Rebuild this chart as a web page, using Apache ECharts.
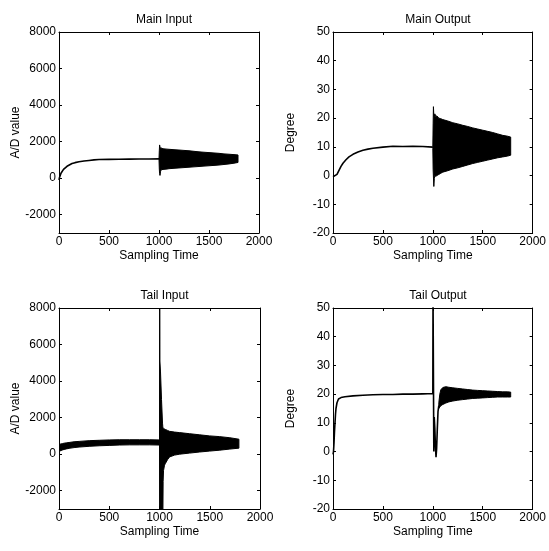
<!DOCTYPE html>
<html>
<head>
<meta charset="utf-8">
<script src="https://cdn.jsdelivr.net/npm/echarts@6/dist/echarts.min.js"></script>
<style>
html,body{margin:0;padding:0;background:#fff;}
#c{width:549px;height:551px;}
</style>
</head>
<body>
<div id="c"></div>
<script>
// ---------- tick labels ----------
const xTicks = [0, 500, 1000, 1500, 2000];
const adTicks = [-2000, 0, 2000, 4000, 6000, 8000];
const degTicks = [-20, -10, 0, 10, 20, 30, 40, 50];
const titles = ['Main Input', 'Main Output', 'Tail Input', 'Tail Output'];

// ---------- Main Input ----------
const miX = [0, 5, 10, 20, 30, 45, 60, 80, 100, 130, 160, 200, 250, 300, 350, 400, 500, 600, 700, 800, 900, 1000];
const miY = [-100, 40, 130, 270, 370, 480, 560, 650, 730, 800, 850, 900, 940, 970, 1000, 1020, 1030, 1040, 1045, 1050, 1050, 1055];
const miBandX = [1000, 1003, 1006, 1010, 1015, 1020, 1030, 1040, 1060, 1080, 1100, 1150, 1200, 1250, 1300, 1350, 1400, 1450, 1500, 1550, 1600, 1650, 1700, 1750, 1790];
const miBandHi = [1060, 1500, 1820, 1700, 1640, 1660, 1630, 1610, 1600, 1590, 1580, 1560, 1540, 1520, 1500, 1470, 1440, 1420, 1400, 1380, 1360, 1330, 1310, 1290, 1270];
const miBandLo = [1040, 500, 250, 150, 350, 450, 470, 480, 490, 500, 520, 540, 560, 580, 600, 620, 640, 660, 680, 700, 720, 750, 780, 820, 860];

// ---------- Main Output ----------
const moX = [0, 20, 40, 60, 80, 100, 130, 160, 200, 250, 300, 350, 400, 500, 600, 700, 800, 900, 1000];
const moY = [-0.4, -0.2, 0.4, 1.8, 3.2, 4.3, 5.5, 6.5, 7.4, 8.2, 8.8, 9.2, 9.5, 9.9, 10.2, 10.1, 10.2, 10.1, 9.9];
const moBandX = [1000, 1003, 1006, 1010, 1015, 1020, 1030, 1040, 1060, 1080, 1100, 1150, 1200, 1250, 1300, 1350, 1400, 1450, 1500, 1550, 1600, 1650, 1700, 1750, 1780];
const moBandHi = [10, 18, 24, 21, 20.5, 21.5, 20.5, 20.8, 20, 19.8, 19.5, 19, 18.4, 18, 17.5, 17.1, 16.6, 16.2, 15.8, 15.4, 15, 14.5, 14, 13.7, 13.4];
const moBandLo = [9.5, 2, -0.5, -3.8, -1, 0, -0.3, 0, 0.4, 0.8, 1.2, 1.7, 2.3, 2.7, 3.2, 3.7, 4.2, 4.6, 5, 5.4, 5.8, 6.2, 6.5, 6.8, 7.1];

// ---------- Tail Input ----------
const tiBandX = [0, 3, 6, 10, 20, 35, 50, 75, 100, 150, 200, 300, 400, 500, 600, 700, 800, 900, 1000, 1001, 1003, 1004, 1010, 1020, 1030, 1033, 1036, 1040, 1050, 1060, 1080, 1100, 1150, 1200, 1300, 1400, 1500, 1600, 1700, 1790];
const tiBandHi = [100, 450, 520, 550, 560, 580, 600, 620, 640, 680, 700, 740, 760, 780, 790, 790, 790, 790, 780, 9000, 9000, 5100, 4500, 3000, 1700, 1500, 1420, 1400, 1380, 1350, 1300, 1250, 1210, 1180, 1120, 1060, 1000, 960, 900, 820];
const tiBandLo = [-150, 100, 150, 180, 200, 230, 260, 290, 320, 360, 390, 430, 460, 480, 500, 510, 510, 510, 500, -4000, -4000, -4000, -4000, -4000, -4000, -4000, -1500, -900, -600, -500, -300, -150, -50, 0, 60, 120, 170, 220, 280, 330];

// ---------- Tail Output ----------
const toX = [0, 5, 10, 15, 20, 25, 30, 40, 55, 80, 120, 200, 300, 400, 500, 600, 700, 800, 900, 1000, 1002, 1006, 1010, 1014, 1020, 1026, 1032, 1038, 1045, 1052, 1060];
const toY = [-1, 0, 3, 7, 10, 13, 15, 17, 18.3, 18.8, 19.1, 19.4, 19.6, 19.8, 19.9, 19.9, 20, 20, 20.1, 20.2, 55, 55, 0, 12, 8, 2, -2, 1, 8, 14, 16];
const toBandX = [1060, 1070, 1080, 1100, 1130, 1160, 1200, 1250, 1300, 1350, 1400, 1450, 1500, 1550, 1600, 1650, 1700, 1750, 1780];
const toBandHi = [17, 20, 21.5, 22.3, 22.6, 22.4, 22.2, 22, 21.8, 21.6, 21.4, 21.3, 21.2, 21.1, 21, 20.9, 20.8, 20.8, 20.7];
const toBandLo = [15, 15.5, 16, 16.4, 16.9, 17.3, 17.6, 17.9, 18.1, 18.3, 18.5, 18.6, 18.7, 18.8, 18.9, 19, 19, 19, 19];

// ---------- build ----------
const FONT = 'Arial, "Liberation Sans", Helvetica, sans-serif';
const grids = [
  {left: 59, top: 32, width: 200, height: 201},
  {left: 333, top: 32, width: 200, height: 201},
  {left: 59, top: 308, width: 201, height: 201},
  {left: 333, top: 308, width: 200, height: 201}
];
const yCfg = [
  {min: -3000, max: 8000, ticks: adTicks, name: 'A/D value'},
  {min: -20, max: 50, ticks: degTicks, name: 'Degree'},
  {min: -3000, max: 8000, ticks: adTicks, name: 'A/D value'},
  {min: -20, max: 50, ticks: degTicks, name: 'Degree'}
];
const plain = function (v) { return String(v); };

const xAxis = [], yAxis = [], series = [], title = [];
const lineAx = {show: true, onZero: false, lineStyle: {color: '#000', width: 1}};
grids.forEach(function (g, i) {
  const yc = yCfg[i];
  xAxis.push({
    gridIndex: i, type: 'value', position: 'bottom', min: 0, max: 2000,
    axisLine: lineAx, splitLine: {show: false},
    axisTick: {inside: true, length: 3, customValues: xTicks, lineStyle: {color: '#000'}},
    axisLabel: {customValues: xTicks, formatter: plain, color: '#000', fontSize: 12, fontFamily: FONT, margin: 3},
    name: 'Sampling Time', nameLocation: 'middle', nameGap: 17,
    nameTextStyle: {color: '#000', fontSize: 12, fontFamily: FONT}
  });
  xAxis.push({
    gridIndex: i, type: 'value', position: 'top', min: 0, max: 2000,
    axisLine: lineAx, splitLine: {show: false},
    axisTick: {inside: true, length: 3, customValues: xTicks, lineStyle: {color: '#000'}},
    axisLabel: {show: false}
  });
  yAxis.push({
    gridIndex: i, type: 'value', position: 'left', min: yc.min, max: yc.max,
    axisLine: lineAx, splitLine: {show: false},
    axisTick: {inside: true, length: 3, customValues: yc.ticks, lineStyle: {color: '#000'}},
    axisLabel: {customValues: yc.ticks, formatter: plain, color: '#000', fontSize: 12, fontFamily: FONT, margin: 3},
    name: yc.name, nameLocation: 'middle', nameGap: 36, nameRotate: 90,
    nameTextStyle: {color: '#000', fontSize: 12, fontFamily: FONT}
  });
  yAxis.push({
    gridIndex: i, type: 'value', position: 'right', min: yc.min, max: yc.max,
    axisLine: lineAx, splitLine: {show: false},
    axisTick: {inside: true, length: 3, customValues: yc.ticks, lineStyle: {color: '#000'}},
    axisLabel: {show: false}
  });
  title.push({
    text: titles[i], left: g.left + g.width / 2, top: i < 2 ? 9 : 285, textAlign: 'center',
    textStyle: {fontSize: 12, fontWeight: 'normal', color: '#000', fontFamily: FONT}
  });
});

function lineSeries(i, xs, ys) {
  return {
    type: 'line', xAxisIndex: i * 2, yAxisIndex: i * 2, showSymbol: false, clip: true,
    data: xs.map(function (x, k) { return [x, ys[k]]; }),
    lineStyle: {color: '#000', width: 1.6}, itemStyle: {color: '#000'}, animation: false
  };
}
function bandSeries(i, xs, lo, hi) {
  return {
    type: 'custom', xAxisIndex: i * 2, yAxisIndex: i * 2, clip: true, animation: false,
    data: [[xs[0], lo[0]]],
    renderItem: function (params, api) {
      const pts = [];
      for (let k = 0; k < xs.length; k++) pts.push(api.coord([xs[k], hi[k]]));
      for (let k = xs.length - 1; k >= 0; k--) pts.push(api.coord([xs[k], lo[k]]));
      const cs = params.coordSys;
      return {
        type: 'polygon', shape: {points: pts},
        style: {fill: '#000', stroke: '#000', lineWidth: 1},
        clipPath: {type: 'rect', shape: {x: cs.x, y: cs.y, width: cs.width, height: cs.height}}
      };
    }
  };
}

series.push(lineSeries(0, miX, miY));
series.push(bandSeries(0, miBandX, miBandLo, miBandHi));
series.push(lineSeries(1, moX, moY));
series.push(bandSeries(1, moBandX, moBandLo, moBandHi));
series.push(bandSeries(2, tiBandX, tiBandLo, tiBandHi));
series.push(lineSeries(3, toX, toY));
series.push(bandSeries(3, toBandX, toBandLo, toBandHi));

const chart = echarts.init(document.getElementById('c'), null, {renderer: 'canvas'});
chart.setOption({
  backgroundColor: '#fff',
  animation: false,
  title: title,
  grid: grids,
  xAxis: xAxis,
  yAxis: yAxis,
  series: series
});
</script>
</body>
</html>
